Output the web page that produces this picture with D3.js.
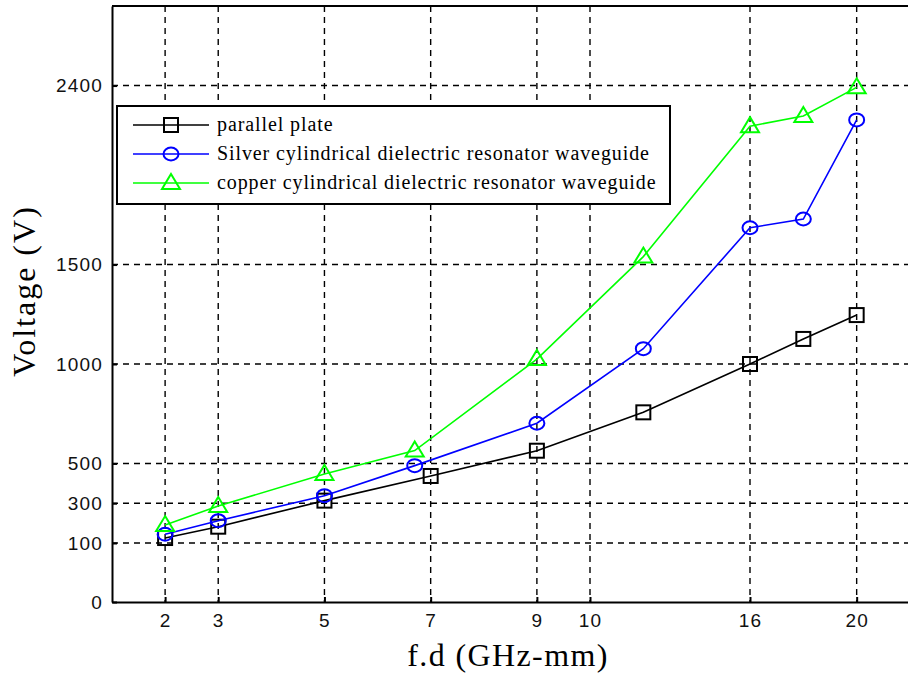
<!DOCTYPE html>
<html>
<head>
<meta charset="utf-8">
<script src="https://cdn.jsdelivr.net/npm/d3@7"></script>
<style>
  body { margin: 0; background: #fff; }
  svg { display: block; }
</style>
</head>
<body>
<div id="chart"></div>
<script>
// ========== DATA ==========
const xTicks = [2, 3, 5, 7, 9, 10, 16, 20];
const yTicks = [0, 100, 300, 500, 1000, 1500, 2400];

const xParallel = [2, 3, 5, 7, 9, 12, 16, 18, 20];
const parallelPlate = [125, 182, 313, 437, 564, 757, 1000, 1126, 1246];

const xSilver = [2, 3, 5, 6.7, 9, 12, 16, 18, 20];
const silverWaveguide = [144, 212, 338, 489, 702, 1077, 1685, 1729, 2227];

const xCopper = [2, 3, 5, 6.7, 9, 12, 16, 18, 20];
const copperWaveguide = [190, 286, 447, 565, 1025, 1540, 2196, 2247, 2391];

const seriesNames = [
  "parallel plate",
  "Silver cylindrical dielectric resonator waveguide",
  "copper cylindrical dielectric resonator waveguide"
];

// ========== LAYOUT ==========
const width = 908, height = 673;
const box = { left: 112, top: 6, bottom: 602, right: 910 };

// axes are not linear in the original figure, so use piecewise scales
const x = d3.scaleLinear().domain([1, 10, 22]).range([box.left, 590, box.right]);
const y = d3.scaleLinear().domain([0, 100, 2800]).range([box.bottom, 543, box.top]);

const svg = d3.select("#chart").append("svg")
  .attr("width", width)
  .attr("height", height);

// grid lines (dashed)
const grid = svg.append("g").attr("class", "grid");
grid.selectAll(".vgrid")
  .data(xTicks)
  .join("line")
  .attr("x1", d => x(d)).attr("x2", d => x(d))
  .attr("y1", box.top).attr("y2", box.bottom)
  .style("stroke", "black")
  .style("stroke-width", 1.4)
  .style("stroke-dasharray", "6,5");

grid.selectAll(".hgrid")
  .data(yTicks.filter(d => d > 0))
  .join("line")
  .attr("x1", box.left).attr("x2", box.right)
  .attr("y1", d => y(d)).attr("y2", d => y(d))
  .style("stroke", "black")
  .style("stroke-width", 1.4)
  .style("stroke-dasharray", "6,5");

// axes
const xAxis = svg.append("g")
  .attr("transform", `translate(0,${box.bottom})`)
  .call(d3.axisBottom(x).tickValues(xTicks).tickFormat(d3.format("d"))
    .tickSizeInner(-5).tickSizeOuter(0).tickPadding(12));

const yAxis = svg.append("g")
  .attr("transform", `translate(${box.left},0)`)
  .call(d3.axisLeft(y).tickValues(yTicks).tickFormat(d3.format("d"))
    .tickSizeInner(-5).tickSizeOuter(0).tickPadding(9));

[xAxis, yAxis].forEach(ax => {
  ax.select(".domain").style("stroke", "black").style("stroke-width", 2);
  ax.selectAll(".tick line").style("stroke", "black").style("stroke-width", 2);
  ax.selectAll(".tick text")
    .style("font-family", "'Liberation Sans', Arial, sans-serif")
    .style("font-size", "19px")
    .style("letter-spacing", "1.2px")
    .style("fill", "#111");
});

// top border of the box
svg.append("line")
  .attr("x1", box.left).attr("x2", box.right)
  .attr("y1", box.top).attr("y2", box.top)
  .style("stroke", "black").style("stroke-width", 2);

// axis titles
svg.append("text")
  .attr("x", 508)
  .attr("y", 666)
  .style("font-family", "'Liberation Serif', 'Times New Roman', serif")
  .style("font-size", "32px")
  .style("letter-spacing", "1.4px")
  .style("text-anchor", "middle")
  .text("f.d (GHz-mm)");

svg.append("text")
  .attr("transform", "translate(35,291) rotate(-90)")
  .style("font-family", "'Liberation Serif', 'Times New Roman', serif")
  .style("font-size", "32px")
  .style("letter-spacing", "2px")
  .style("text-anchor", "middle")
  .text("Voltage (V)");

// ========== SERIES ==========
const series = [
  { name: seriesNames[0], xs: xParallel, ys: parallelPlate, color: "black", marker: "square" },
  { name: seriesNames[1], xs: xSilver, ys: silverWaveguide, color: "blue", marker: "circle" },
  { name: seriesNames[2], xs: xCopper, ys: copperWaveguide, color: "#00ff00", marker: "triangle" }
];

function drawMarker(group, type, cx, cy, color) {
  if (type === "square") {
    group.append("rect")
      .attr("x", cx - 7).attr("y", cy - 7)
      .attr("width", 14).attr("height", 14)
      .style("fill", "none").style("stroke", color).style("stroke-width", 2);
  } else if (type === "circle") {
    group.append("ellipse")
      .attr("cx", cx).attr("cy", cy)
      .attr("rx", 7.5).attr("ry", 6.5)
      .style("fill", "none").style("stroke", color).style("stroke-width", 2);
  } else {
    group.append("path")
      .attr("d", `M${cx},${cy - 9} L${cx + 9},${cy + 6} L${cx - 9},${cy + 6} Z`)
      .style("fill", "none").style("stroke", color).style("stroke-width", 2);
  }
}

const line = d3.line().x(d => x(d[0])).y(d => y(d[1]));

const plot = svg.append("g").attr("class", "series");
series.forEach(s => {
  const pts = s.xs.map((v, i) => [v, s.ys[i]]);
  plot.append("path")
    .datum(pts)
    .attr("d", line)
    .style("fill", "none")
    .style("stroke", s.color)
    .style("stroke-width", 1.6);
  const g = plot.append("g");
  pts.forEach(p => drawMarker(g, s.marker, x(p[0]), y(p[1]), s.color));
});

// ========== LEGEND ==========
const legend = svg.append("g").attr("class", "legend");
legend.append("rect")
  .attr("x", 117).attr("y", 106)
  .attr("width", 553).attr("height", 98)
  .style("fill", "white")
  .style("stroke", "black")
  .style("stroke-width", 2);

series.forEach((s, i) => {
  const ly = 125 + i * 29;
  legend.append("line")
    .attr("x1", 133).attr("x2", 209)
    .attr("y1", ly).attr("y2", ly)
    .style("stroke", s.color).style("stroke-width", 1.6);
  drawMarker(legend, s.marker, 171, ly, s.color);
  legend.append("text")
    .attr("x", 217)
    .attr("y", ly + 6)
    .style("font-family", "'Liberation Serif', 'Times New Roman', serif")
    .style("font-size", "20px")
    .style("letter-spacing", "0.9px")
    .text(s.name);
});
</script>
</body>
</html>
